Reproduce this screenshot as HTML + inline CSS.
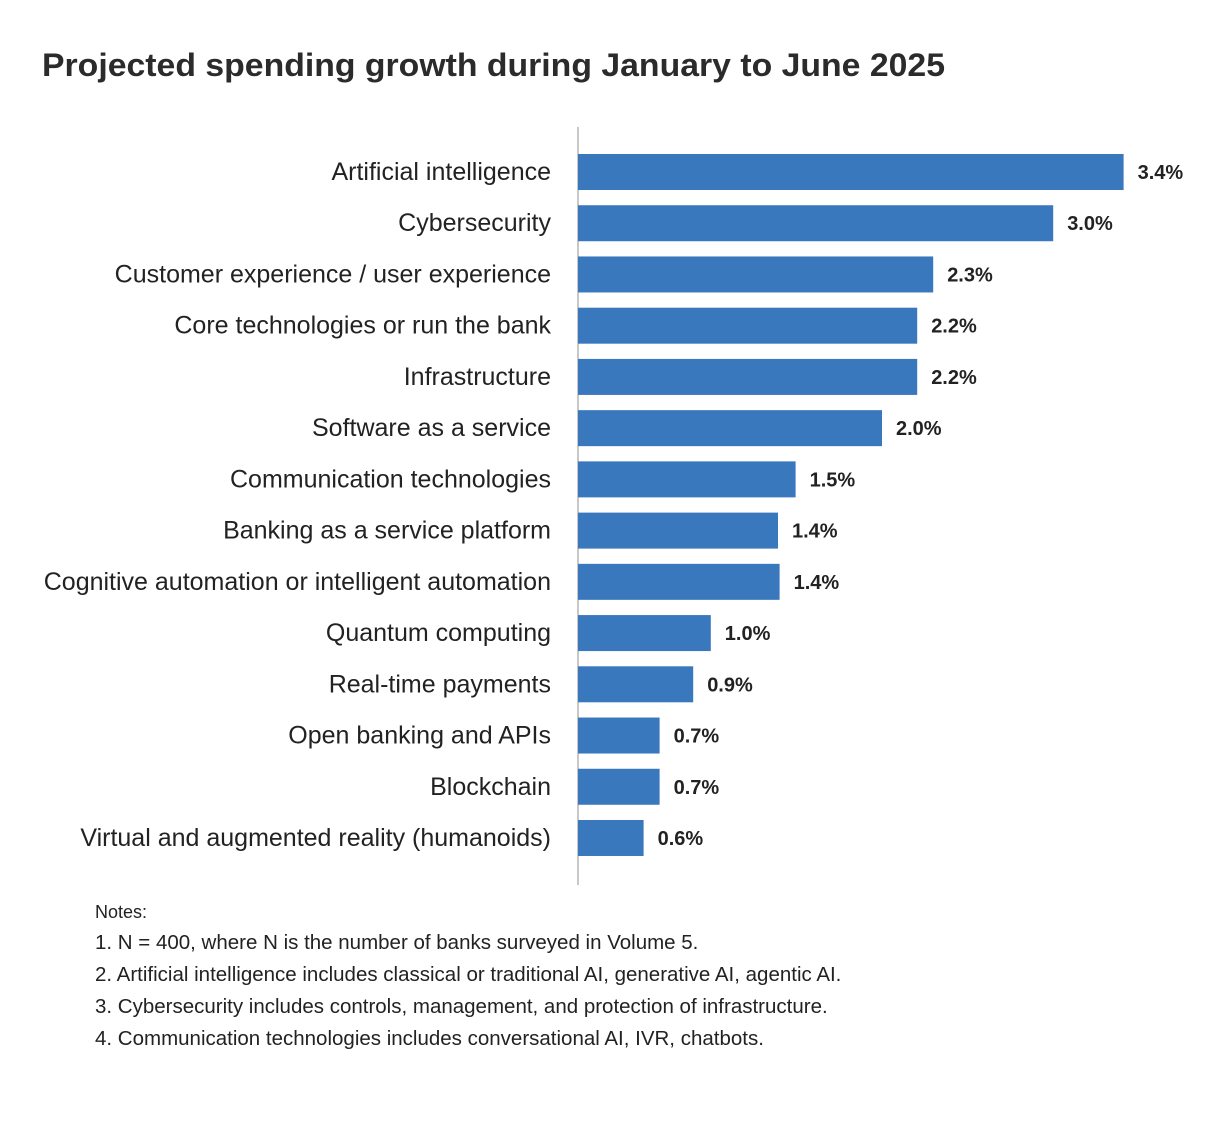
<!DOCTYPE html>
<html><head><meta charset="utf-8"><style>
html,body{margin:0;padding:0;background:#fff;}
svg{display:block;font-family:"Liberation Sans",sans-serif;}
</style></head><body>
<svg id="chart" width="1208" height="1122" viewBox="0 0 1208 1122">
<text x="42" y="76" font-size="32" font-weight="bold" fill="#2b2b2b" textLength="903" lengthAdjust="spacingAndGlyphs">Projected spending growth during January to June 2025</text>
<line x1="578" y1="127" x2="578" y2="885" stroke="#b5b5b5" stroke-width="1.5"/>
<g id="bars"></g>
<g font-size="20.5" fill="#222">
<text x="95" y="918" font-size="18">Notes:</text>
<text x="95" y="949">1. N = 400, where N is the number of banks surveyed in Volume 5.</text>
<text x="95" y="981">2. Artificial intelligence includes classical or traditional AI, generative AI, agentic AI.</text>
<text x="95" y="1013">3. Cybersecurity includes controls, management, and protection of infrastructure.</text>
<text x="95" y="1045">4. Communication technologies includes conversational AI, IVR, chatbots.</text>
</g>
</svg>
<script>
const categories = ["Artificial intelligence","Cybersecurity","Customer experience / user experience","Core technologies or run the bank","Infrastructure","Software as a service","Communication technologies","Banking as a service platform","Cognitive automation or intelligent automation","Quantum computing","Real-time payments","Open banking and APIs","Blockchain","Virtual and augmented reality (humanoids)"];
const values = [3.41,2.97,2.22,2.12,2.12,1.90,1.36,1.25,1.26,0.83,0.72,0.51,0.51,0.41];
const valueLabels = ["3.4%","3.0%","2.3%","2.2%","2.2%","2.0%","1.5%","1.4%","1.4%","1.0%","0.9%","0.7%","0.7%","0.6%"];

const x0 = 578, pxPerUnit = 160, top0 = 154, pitch = 51.23, barH = 36;
const xScale = v => x0 + v * pxPerUnit;
const yScale = i => top0 + i * pitch;
const NS = "http://www.w3.org/2000/svg";
const g = document.getElementById("bars");
categories.forEach((c, i) => {
  const y = yScale(i), w = xScale(values[i]) - x0;
  const r = document.createElementNS(NS, "rect");
  r.setAttribute("x", x0); r.setAttribute("y", y);
  r.setAttribute("width", w); r.setAttribute("height", barH);
  r.setAttribute("fill", "#3a78bd");
  
  
  g.appendChild(r);
  const t = document.createElementNS(NS, "text");
  t.setAttribute("x", 551); t.setAttribute("y", y + barH / 2 + 8);
  t.setAttribute("text-anchor", "end"); t.setAttribute("font-size", "25");
  t.setAttribute("fill", "#222");
  t.textContent = c;
  
  
  g.appendChild(t);
  const v = document.createElementNS(NS, "text");
  v.setAttribute("x", xScale(values[i]) + 14); v.setAttribute("y", y + barH / 2 + 7);
  v.setAttribute("font-size", "20"); v.setAttribute("font-weight", "bold");
  v.setAttribute("fill", "#222");
  v.textContent = valueLabels[i];
  
  
  g.appendChild(v);
});
</script>
</body></html>
